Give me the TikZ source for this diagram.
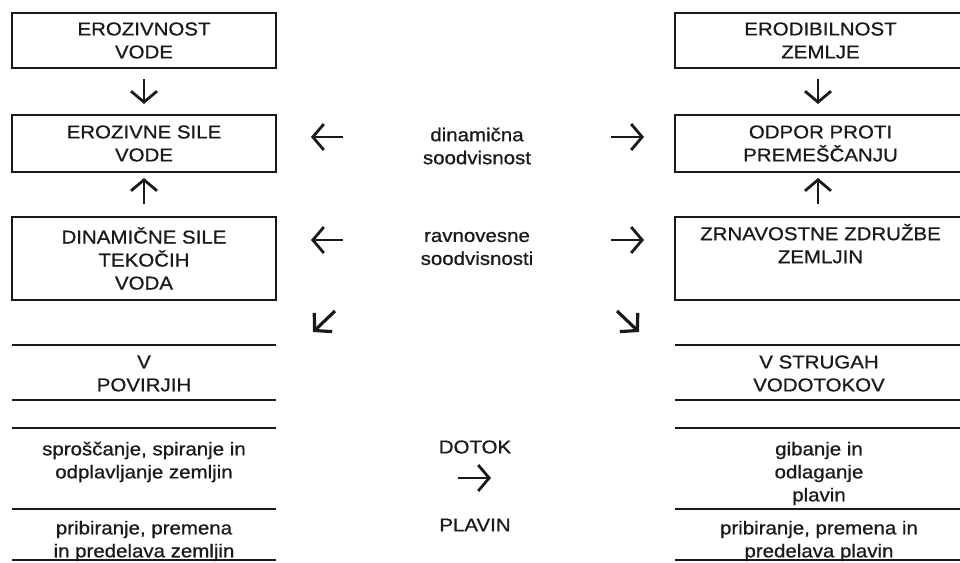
\documentclass[tikz,border=0pt]{standalone}
\usepackage{fontspec}
\setmainfont{Liberation Sans}[FakeStretch=1.1,FakeBold=0.8]
\usetikzlibrary{arrows.meta}
\definecolor{ink}{HTML}{1A1A1A}
\begin{document}
\begin{tikzpicture}[x=1pt,y=-1pt,
  txt/.style={align=center, text=ink, inner sep=0pt, font=\fontsize{18.6}{23}\selectfont},
  box/.style={txt, draw=ink, line width=2pt},
  rule/.style={draw=ink, line width=2pt},
  arr/.style={draw=ink, line width=2.8pt, -{Straight Barb[length=11pt,width=26pt]}},
  diag/.style={draw=ink, line width=3.2pt, -{Straight Barb[length=12pt,width=26pt]}}]
\useasboundingbox (0,0) rectangle (960,562);
\clip (0,0) rectangle (960,562);
% left boxes
\node[box, minimum width=264pt, minimum height=55pt] (L1) at (144,40.5) {EROZIVNOST\\VODE};
\node[box, minimum width=264pt, minimum height=57pt] (L2) at (144,143.5) {EROZIVNE SILE\\VODE};
\node[box, minimum width=264pt, minimum height=83pt] (L3) at (144,258.5) {DINAMIČNE SILE\\TEKOČIH\\VODA};
% right boxes
\node[box, minimum width=291pt, minimum height=55pt] (R1) at (820.5,40.5) {ERODIBILNOST\\ZEMLJE};
\node[box, minimum width=291pt, minimum height=57pt] (R2) at (820.5,143.5) {ODPOR PROTI\\PREMEŠČANJU};
\node[box, minimum width=291pt, minimum height=83pt] (R3) at (820.5,258.5) {ZRNAVOSTNE ZDRUŽBE\\ZEMLJIN\\\strut};
% vertical arrows
\draw[arr, shorten <=10pt, shorten >=10pt] (L1.south) -- (L2.north);
\draw[arr, shorten <=12pt, shorten >=5pt] (L3.north) -- (L2.south);
\draw[arr, shorten <=10pt, shorten >=10pt] ([xshift=-2.5pt]R1.south) -- ([xshift=-2.5pt]R2.north);
\draw[arr, shorten <=12pt, shorten >=5pt] ([xshift=-2.5pt]R3.north) -- ([xshift=-2.5pt]R2.south);
% middle labels
\node[txt, minimum width=268pt] (dyn) at (477,146) {dinamična\\soodvisnost};
\node[txt, minimum width=268pt] (rav) at (477,248.5) {ravnovesne\\soodvisnosti};
\draw[arr, shorten >=34pt] ([yshift=9pt]dyn.west) -- ([yshift=6.5pt]L2.east);
\draw[arr, shorten >=30pt] ([yshift=9pt]dyn.east) -- ([yshift=6.5pt]R2.west);
\draw[arr, shorten >=34pt] ([yshift=8.5pt]rav.west) -- ([yshift=18.5pt]L3.east);
\draw[arr, shorten >=30pt] ([yshift=8.5pt]rav.east) -- ([yshift=18.5pt]R3.west);
% diagonal arrows
\coordinate (dla) at (335,311);
\coordinate (dlb) at (313,332);
\coordinate (dra) at (617,311);
\coordinate (drb) at (639,332);
\draw[diag] (dla) -- (dlb);
\draw[diag] (dra) -- (drb);
% bottom tables: rules
\foreach \y in {345,400,428,509,560} {
  \draw[rule] (12,\y) -- (276,\y);
  \draw[rule] (675,\y) -- (966,\y);
}
% bottom tables: texts
\node[txt] (pov) at (144,373.5) {V\\POVIRJIH};
\node[txt] (spr) at (144,462) {sproščanje, spiranje in\\odplavljanje zemljin};
\node[txt] (prl) at (144,541) {pribiranje, premena\\in predelava zemljin};
\node[txt] (str) at (819,373.5) {V STRUGAH\\VODOTOKOV};
\node[txt] (gib) at (819,473.5) {gibanje in\\odlaganje\\plavin};
\node[txt] (prr) at (819,541) {pribiranje, premena in\\predelava plavin};
% middle bottom
\node[txt] (dot) at (475,447) {DOTOK};
\node[txt] (pla) at (475,525) {PLAVIN};
\coordinate (da) at (458,478);
\coordinate (db) at (491,478);
\draw[arr] (da) -- (db);
\end{tikzpicture}
\end{document}
